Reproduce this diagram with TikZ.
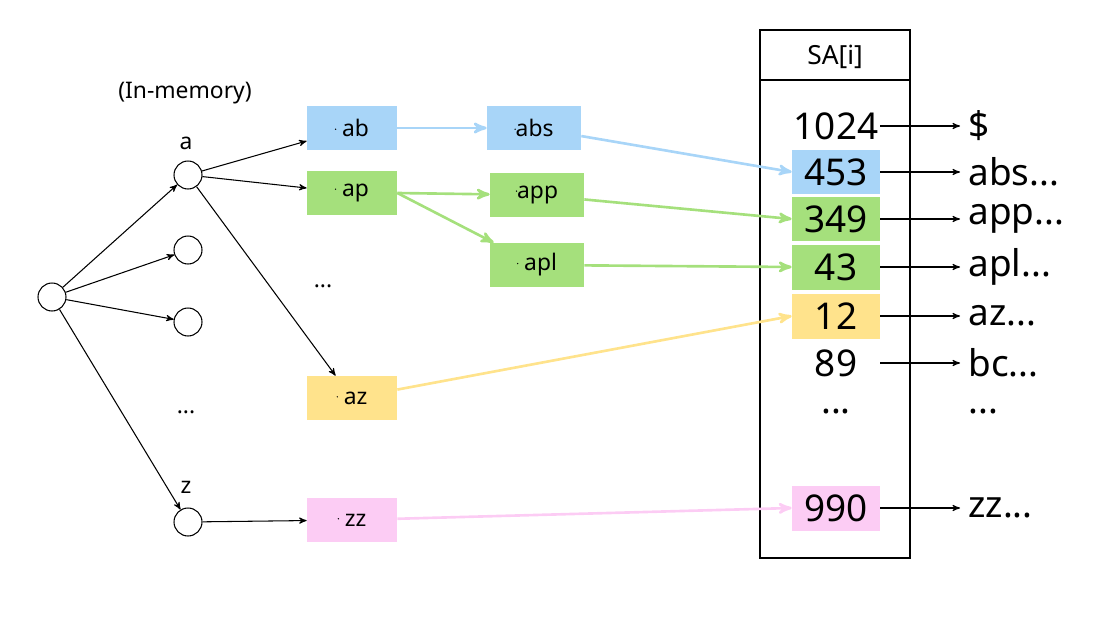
\documentclass[tikz,border=0pt]{standalone}
\usepackage{fontspec}
\setmainfont{Noto Sans}
\usetikzlibrary{arrows}
\definecolor{cblue}{HTML}{A8D5F8}
\definecolor{cgreen}{HTML}{A5E07C}
\definecolor{cyellow}{HTML}{FFE38C}
\definecolor{cpink}{HTML}{FCCCF4}
\newcommand{\ring}{\tikz[baseline=-0.6ex]\draw[thin] (0,0) circle (0.24);}
\begin{document}
\begin{tikzpicture}
        [x=0.02cm, y=-0.02cm,
        vertex/.style={circle, draw=black, fill=white, semithick, minimum size=0.56cm, inner sep=0pt},
        key/.style={minimum width=1.8cm, minimum height=0.88cm, inner sep=0pt, font=\fontsize{13}{15}\selectfont},
        entry/.style={minimum width=1.76cm, minimum height=0.9cm, inner sep=0pt, font=\fontsize{21}{24}\selectfont},
        txt/.style={font=\fontsize{21}{24}\selectfont, anchor=west, inner sep=0pt},
        lbl/.style={font=\fontsize{13}{15}\selectfont},
        arr/.style={->,>=stealth',semithick},
        link/.style={->,>=stealth',line width=1.5pt}]
        \useasboundingbox (0,0) rectangle (1116,619);
        % trie
        \node (root) at (52,297) [vertex] {};
        \node (a) at (188,175) [vertex] {};
        \node (b) at (188,250) [vertex] {};
        \node (c) at (188,322) [vertex] {};
        \node (z) at (188,522) [vertex] {};
        \node at (186,143) [lbl] {a};
        \node at (186,487) [lbl] {z};
        \node at (186,412) [lbl] {...};
        \node at (185,93) [lbl] {(In-memory)};
        \draw[arr] (root) -- (a);
        \draw[arr] (root) -- (b);
        \draw[arr] (root) -- (c);
        \draw[arr] (root) -- (z);
        % prefixes
        \node (ab) at (352,128) [key, fill=cblue] {\ring\ ab};
        \node (ap) at (352,193) [key, fill=cgreen] {\ring\ ap};
        \node at (323,286) [lbl] {...};
        \node (az) at (352,398) [key, fill=cyellow] {\ring\ az};
        \node (zz) at (352,520) [key, fill=cpink] {\ring\ zz};
        \draw[arr] (a) -- (ab);
        \draw[arr] (a) -- (ap);
        \draw[arr] (a) -- (az);
        \draw[arr] (z) -- (zz);
        \node (abs) at (534,128) [key, minimum width=1.88cm, fill=cblue] {\ring abs};
        \node (app) at (537,195) [key, minimum width=1.88cm, fill=cgreen] {\ring app};
        \node (apl) at (537,265) [key, minimum width=1.88cm, fill=cgreen] {\ring\ apl};
        \draw[link, cblue] (ab) -- (abs);
        \draw[link, cgreen] (ap.east) -- (app);
        \draw[link, cgreen] (ap.east) -- (apl);
        % suffix array
        \draw[semithick] (760,30) rectangle (910,558);
        \draw[semithick] (760,80) -- (910,80);
        \node at (835,57) [lbl, font=\fontsize{15}{18}\selectfont] {SA[i]};
        \node (s1) at (836,126) [entry] {1024};
        \node (s2) at (836,172) [entry, fill=cblue] {453};
        \node (s3) at (836,219) [entry, fill=cgreen] {349};
        \node (s4) at (836,267) [entry, fill=cgreen] {43};
        \node (s5) at (836,316) [entry, fill=cyellow] {12};
        \node (s6) at (836,363) [entry] {89};
        \node (s7) at (836,412) [entry] {...};
        \node (s8) at (836,508) [entry, fill=cpink] {990};
        \node (u1) at (968,126) [txt] {\$};
        \node (u2) at (968,172) [txt] {abs...};
        \node (u3) at (968,219) [txt] {app...};
        \node (u4) at (968,267) [txt] {apl...};
        \node (u5) at (968,316) [txt] {az...};
        \node (u6) at (968,363) [txt] {bc...};
        \node (u7) at (968,412) [txt] {...};
        \node (u8) at (968,508) [txt] {zz...};
        \foreach \i in {1,2,3,4,5,6,8}
          \draw[arr] (s\i.east) -- ([xshift=-0.16cm]u\i.west);
        \draw[link, cblue] (abs) -- (s2.west);
        \draw[link, cgreen] (app) -- (s3.west);
        \draw[link, cgreen] (apl) -- (s4.west);
        \draw[link, cyellow] (az) -- (s5.west);
        \draw[link, cpink] (zz) -- (s8.west);
\end{tikzpicture}
\end{document}
